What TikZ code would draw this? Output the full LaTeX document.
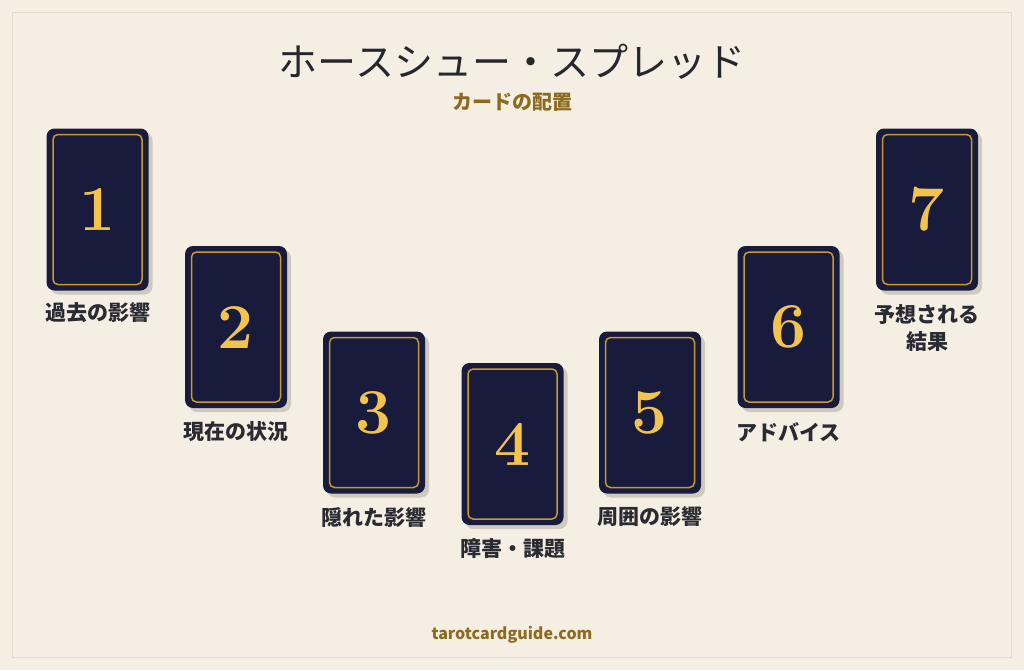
\documentclass[tikz,border=0pt]{standalone}
\usepackage{fontspec}
\newfontfamily\cjk{Noto Sans CJK JP}
\usetikzlibrary{shadows}
\definecolor{bg}{HTML}{F5EFE3}
\definecolor{edge}{HTML}{E3DBCA}
\definecolor{navy}{HTML}{181B3C}
\definecolor{gold}{HTML}{C9982F}
\definecolor{numgold}{HTML}{F2C44E}
\definecolor{subgold}{HTML}{8C6A1F}
\definecolor{shade}{HTML}{CFCAC1}
\definecolor{ink}{HTML}{2A2A32}
\begin{document}
\begin{tikzpicture}[x=1pt,y=-1pt,
  card/.style={fill=navy, rounded corners=8pt, minimum width=102pt, minimum height=162pt, inner sep=0pt,
    drop shadow={shadow xshift=4pt, shadow yshift=-4pt, opacity=1, fill=shade},
    text=numgold, font=\fontsize{64}{64}\selectfont\bfseries},
  frame/.style={draw=gold, line width=1.5pt, rounded corners=5pt, minimum width=89pt, minimum height=150pt, inner sep=0pt},
  lbl/.style={text=ink, font=\cjk\bfseries\fontsize{21}{27}\selectfont, align=center}]
\path[fill=bg] (0,0) rectangle (1024,670);
\path[draw=edge, line width=1.5pt] (12.5,12.5) rectangle (1011.5,657.5);
\node[text=ink!90!black, font=\cjk\fontsize{39}{39}\selectfont] (title) at (512,62) {ホースシュー・スプレッド};
\node[text=subgold, font=\cjk\bfseries\fontsize{20}{20}\selectfont] (sub) at (512,102) {カードの配置};
\node[card] (c1) at (97.5,209.5) {1};
\node[card] (c2) at (236,327) {2};
\node[card] (c3) at (374,412.5) {3};
\node[card] (c4) at (512.5,444) {4};
\node[card] (c5) at (650,412.5) {5};
\node[card] (c6) at (788.5,327) {6};
\node[card] (c7) at (927,209.5) {7};
\node[frame] (f1) at (c1) {};
\node[frame] (f2) at (c2) {};
\node[frame] (f3) at (c3) {};
\node[frame] (f4) at (c4) {};
\node[frame] (f5) at (c5) {};
\node[frame] (f6) at (c6) {};
\node[frame] (f7) at (c7) {};
\node[lbl] (l1) at (97.5,313) {過去の影響};
\node[lbl] (l2) at (236,432) {現在の状況};
\node[lbl] (l3) at (374,517) {隠れた影響};
\node[lbl] (l4) at (512.5,549) {障害・課題};
\node[lbl] (l5) at (650,517) {周囲の影響};
\node[lbl] (l6) at (788.5,432) {アドバイス};
\node[lbl] (l7) at (927,328.5) {予想される\\結果};
\node[text=subgold, font=\cjk\bfseries\fontsize{16}{16}\selectfont] (site) at (512,635) {tarotcardguide.com};
\end{tikzpicture}
\end{document}
